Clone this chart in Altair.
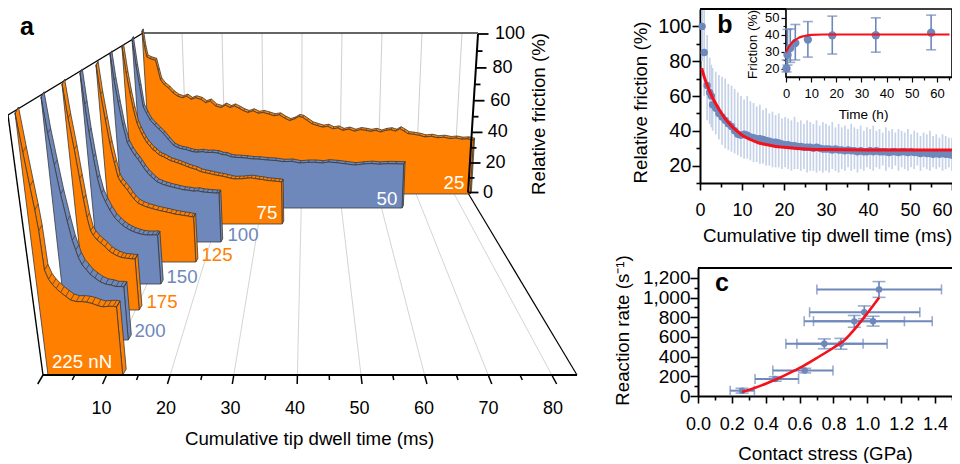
import altair as alt
import pandas as pd

W, H = 944, 455
ORANGE, BLUE, RED, DARK = "#FF7F00", "#6E88BB", "#F5101A", "#3A3A3A"
FONT = "Liberation Sans"
TXT = 18.7

# ---------- panel a: friction traces (ms, %) ----------
T225 = [0, .4, .8, 1.1, 1.3, 1.45, 1.9, 2.4, 2.9, 3.5, 4.2, 4.9, 5.7, 6.5, 7.3, 8.1, 8.9, 9.7, 10.5, 11.3, 11.8]
F225 = [100, 85, 72, 63, 55, 40, 36.5, 34.5, 33, 31.5, 30, 28.6, 28, 28, 27.8, 27.3, 26.5, 26, 26.2, 26.2, 26]
T200 = [0, .4, .9, 1.4, 2.0, 2.5, 2.9, 3.2, 3.7, 4.3, 4.9, 5.6, 6.4, 7.3, 8.2, 9, 9.8, 10.3]
F200 = [100, 85, 72, 60, 49, 41, 37, 34, 31, 29, 27, 25.5, 24, 23, 22.6, 22, 22, 21.8]
T175 = [0, .4, .9, 1.3, 1.6, 1.9, 2.3, 2.7, 3.3, 3.9, 4.6, 5.3, 5.9, 6.6, 7.3, 7.9, 8.6, 9.2, 9.8]
F175 = [100, 85, 71, 58, 49, 41, 35, 33, 31, 29.6, 28, 26, 25, 24, 23.3, 23, 22.8, 22.6, 22.6]
T150 = [0, .3, .6, 1, 1.4, 1.9, 2.5, 3.2, 4, 4.7, 5.4, 6.1, 6.8, 7.4, 8.3, 9.1, 10, 10.9, 11.7, 12]
F150 = [100, 85, 72, 60, 50, 43, 39, 35, 31.5, 29.5, 27.8, 26.5, 25.5, 24.8, 24, 23.5, 23.2, 23.2, 23.3, 23]
T125 = [0, .4, .9, 1.4, 2, 2.5, 3, 3.6, 4.2, 4.8, 5.4, 6.1, 7, 8, 9, 10, 10.9, 11.8, 12.7, 13.6, 14.5, 15.4, 16.3, 17, 17.4]
F125 = [100, 85, 72, 60, 50, 43, 40.5, 38.5, 36.5, 34, 32, 30, 28.8, 27.8, 27.1, 26.4, 25.9, 25.4, 24.9, 24.3, 24, 23.6, 23.3, 22.9, 22.8]
T100 = [0, .4, .9, 1.5, 2.2, 2.9, 3.6, 4.2, 4.7, 5.3, 6, 6.7, 7.4, 8, 8.9, 9.8, 10.7, 11.6, 12.6, 13.8, 14.8, 15.8, 16.8, 17.8, 18.8, 19.8, 20.8, 21.4]
F100 = [100, 86, 74, 62, 52.7, 49, 46, 44, 42, 39.5, 37, 35, 33.4, 32, 31, 30.2, 29.5, 29, 28.4, 27.7, 27.5, 27, 27.2, 26.6, 26.4, 26.2, 26, 26]
T75 = [0, .5, 1, 1.5, 2.1, 2.6, 3.1, 3.6, 4.1, 4.7, 5.3, 5.9, 6.5, 7.1, 7.7, 8.5, 9.2, 10, 10.8, 11.6, 12.4, 13.2, 14, 15, 16, 17, 18, 19, 20, 21, 22, 23, 23.8, 24.8, 25.8, 26.7, 27.6, 28.5, 29.4, 30.3, 31.2, 32.1, 33, 34, 34.7]
F75 = [100, 85, 74, 65, 57, 53.5, 50.5, 48, 45.8, 44, 42, 41, 39.3, 38.5, 37.9, 36.8, 35.8, 35.2, 34.5, 33.8, 33, 32.2, 31.5, 30.8, 29.6, 29, 28.5, 27.9, 27.4, 27, 26.4, 25.8, 25.4, 25.5, 25.6, 25.9, 26, 25.7, 25.3, 25.1, 24.6, 24.4, 24.2, 24, 23.7]
T50 = [0, .5, 1, 1.5, 2.2, 3, 4, 5, 6, 7.1, 8.3, 9.2, 10.2, 11.2, 12.2, 13.1, 14, 15.2, 16.4, 17.6, 19, 20, 21, 22, 23, 24.5, 26, 27.5, 29, 31, 33, 35, 37, 39, 41, 42.7, 44.5, 46, 48, 50, 52.5, 54.5, 56.5, 58.5, 60.5, 62.5, 64.5]
F50 = [100, 84, 72, 60, 56, 52, 49, 46.5, 44, 40.5, 37, 35.8, 35, 34.6, 33.8, 33.2, 33, 33.3, 32.8, 32.9, 32.5, 31.6, 31.4, 30.4, 30, 29.8, 29.5, 29, 28.9, 28.4, 28.1, 27.4, 27.6, 26.6, 27, 27, 26.6, 27.2, 26.8, 26.2, 25.4, 26, 26.3, 25.9, 26.2, 26.1, 26]
T25 = [0, .4, .8, 1.6, 2.2, 2.9, 3.4, 3.9, 4.8, 5.8, 6.9, 8, 9.2, 10.3, 11.4, 12.5, 13.9, 15, 16.2, 17.5, 18.9, 20, 21.2, 22.3, 23.5, 24.6, 25.7, 27, 28.3, 29.6, 31, 32.3, 33.7, 35, 36.3, 37.5, 38.6, 39.6, 40.8, 42, 43.3, 44.7, 46, 47.3, 48.6, 49.9, 51.4, 52.9, 54.4, 55.8, 57, 58.3, 59.6, 60.9, 62.2, 63.4, 64.5, 65.6, 66.6, 68, 69.5, 71, 72.6, 74.2, 75.8, 77.5, 79, 80.5, 82, 83.5]
F25 = [100, 90, 84, 83, 82.5, 82, 76, 70, 67, 65, 62, 60, 59, 60, 58, 59, 58, 56, 57, 54, 53, 54.5, 53, 54, 52.5, 51, 50, 51, 49.5, 50, 49, 48, 48.5, 46.5, 45, 46, 47.5, 47, 45, 43, 42, 41, 41.5, 40, 40.5, 39, 39.8, 38.5, 39.5, 39, 38.4, 39, 38, 39, 39.4, 38.5, 40, 38.5, 37, 36.6, 36, 35, 35.4, 34.5, 34.8, 34, 34.3, 33.6, 33.8, 33]

# back to front: times, friction, colour, floor y, left x, height of 100 %, lean, px per ms
SERIES = [
    (T25, F25, ORANGE, 194, 152, 163, 10, 3.81),
    (T50, F50, BLUE, 208, 144, 169, 12, 4.00),
    (T75, F75, ORANGE, 224, 135, 177, 13, 4.24),
    (T100, F100, BLUE, 242, 125, 188, 15, 4.48),
    (T125, F125, ORANGE, 262, 113, 197, 17, 4.76),
    (T150, F150, BLUE, 284, 100, 211, 20, 5.07),
    (T175, F175, ORANGE, 310, 86, 226, 24, 5.43),
    (T200, F200, BLUE, 340, 68, 243, 27, 5.85),
    (T225, F225, ORANGE, 375, 48, 262, 33, 6.33),
]
A_GRID = [10, 20, 30, 40, 50, 60, 70, 80]
A_TICKS_MINOR = [5, 15, 25, 35, 45, 55, 65, 75]
A_TICKS_MAJOR = [0, 10, 20, 30, 40, 50, 60, 70, 80]
WALL_MAJOR = [0, 20, 40, 60, 80, 100]
WALL_MINOR = [10, 30, 50, 70, 90]

# ---------- panel b ----------
B_T = [0.5, 1, 1.7, 2.3, 2.7, 3, 3.75, 4.5, 5.25, 6, 6.75, 7.5, 8.25, 9, 9.75, 10.5, 11.25, 12, 12.75, 13.5, 14.25, 15, 15.75, 16.5, 17.25, 18, 18.75, 19.5, 20.25, 21, 21.75, 22.5, 23.25, 24, 24.75, 25.5, 26.25, 27, 27.75, 28.5, 29.25, 30, 30.75, 31.5, 32.25, 33, 33.75, 34.5, 35.25, 36, 36.75, 37.5, 38.25, 39, 39.75, 40.5, 41.25, 42, 42.75, 43.5, 44.25, 45, 45.75, 46.5, 47.25, 48, 48.75, 49.5, 50.25, 51, 51.75, 52.5, 53.25, 54, 54.75, 55.5, 56.25, 57, 57.75, 58.5, 59.25, 60]
B_MEAN = [100, 85, 66, 62, 60, 55,
          53, 50, 48, 46, 44, 42.5, 40, 38, 37.5, 38,
          37.5, 36.5, 36, 35.5, 35.5, 35, 34.5, 34, 33.5, 33.5,
          33, 32.5, 32, 32, 31.5, 31.5, 31, 31, 30.5, 30.5,
          30.5, 30, 30.5, 30, 29.5, 29.5, 29.5, 29, 29.5, 29,
          29, 28.5, 29, 28.5, 28.5, 28, 28.5, 28, 28, 28.5,
          28, 28.5, 28, 28, 28, 27.5, 28, 28, 27.5, 28,
          28, 27.5, 28, 27.5, 27.5, 27, 27.5, 27, 27, 26.5,
          27, 26.5, 27, 26.5, 26.5, 26]
B_UP = [110, 110, 95, 82, 78, 76,
        74, 72, 71, 70, 67, 66, 64, 62, 60, 58,
        60, 57, 56, 54, 55, 52, 53, 50, 51, 49,
        50, 47, 48, 47, 46, 48, 45, 46, 44, 46,
        45, 44, 46, 43, 45, 44, 43, 45, 42, 44,
        42, 43, 41, 44, 42, 41, 43, 40, 42, 41,
        43, 40, 41, 39, 42, 40, 41, 39, 41, 40,
        39, 41, 38, 40, 39, 37, 39, 38, 40, 37,
        38, 36, 38, 37, 36, 36]
B_LOW = [80, 60, 46, 44, 42, 40,
         38, 35, 32, 30, 29, 28, 27, 26, 25, 24,
         24, 23, 22, 22, 21, 21, 20, 20, 19, 19,
         19, 18, 19, 18, 17, 18, 18, 17, 18, 16,
         17, 17, 16, 17, 16, 17, 16, 18, 17, 16,
         18, 17, 19, 17, 18, 16, 18, 17, 19, 18,
         17, 19, 18, 20, 17, 19, 18, 20, 17, 19,
         18, 17, 19, 18, 20, 17, 19, 18, 17, 19,
         18, 19, 17, 18, 19, 17]
B_FIT_T = [.4, 1, 2, 3, 4, 5, 6, 7, 8, 9, 10, 12, 14, 16, 18, 20, 25, 30, 40, 50, 60]
B_FIT_F = [76, 71, 64.5, 59, 54.5, 50.5, 47, 44, 41.5, 39.5, 37.5, 35, 33, 32, 31, 30.5, 29.6, 29.2, 29, 29, 29]

IN_T = [.2, .6, 1.7, 3.7, 8.7, 18.4, 35.7, 57.7]
IN_F = [20, 28, 32, 35, 37, 39.5, 39.6, 41]
IN_UP = [25, 43, 43.3, 45.9, 47.6, 50.8, 49.8, 51.4]
IN_LOW = [18, 22, 23.6, 25, 26.7, 28.5, 29.6, 31]
IN_FIT_T = [0, 1, 2, 3.5, 5, 7, 10, 15, 30, 65]
IN_FIT_F = [29.5, 32.5, 34.5, 36.5, 38, 39, 39.8, 40, 40, 40]

# ---------- panel c ----------
C_X = [.26, .456, .63, .746, .844, .923, 1.034, .982, 1.069]
C_Y = [54, 173, 258, 530, 530, 758, 760, 850, 1082]
C_XLO = [.19, .337, .442, .519, .584, .627, .682, .659, .702]
C_XHI = [.333, .594, .797, .975, 1.117, 1.219, 1.383, 1.31, 1.438]
C_YLO = [30, 150, 235, 480, 475, 698, 710, 785, 1002]
C_YHI = [78, 196, 281, 580, 585, 818, 810, 915, 1162]
C_FIT_X = [.26, .3, .4, .5, .6, .7, .8, .86, .9, 1.0, 1.07]
C_FIT_Y = [40, 60, 125, 200, 285, 385, 490, 560, 630, 840, 1000]

PX = alt.Scale(domain=[0, W], range=[0, W])
PY = alt.Scale(domain=[0, H], range=[0, H])
layers = []


def poly(pts, fill, stroke=DARK, sw=0.8):
    pts = list(pts) + [pts[0]]
    df = pd.DataFrame({"x": [p[0] - 8 for p in pts], "y": [p[1] - 8 for p in pts], "i": range(len(pts))})
    return alt.Chart(df).mark_line(fill=fill, stroke=stroke, strokeWidth=sw, strokeJoin="round").encode(
        x=alt.X("x:Q", scale=PX, axis=None), y=alt.Y("y:Q", scale=PY, axis=None), order="i:Q")


def segs(rows, color, sw):
    df = pd.DataFrame([{"x": a - 8, "y": b - 8, "x2": c - 8, "y2": d - 8} for a, b, c, d in rows])
    return alt.Chart(df).mark_rule(color=color, strokeWidth=sw).encode(
        x=alt.X("x:Q", scale=PX, axis=None), y=alt.Y("y:Q", scale=PY, axis=None), x2="x2:Q", y2="y2:Q")


def text(s, x, y, color="black", size=TXT, bold=False, angle=0, align="center"):
    df = pd.DataFrame({"x": [x - 8], "y": [y - 8], "t": [s]})
    return alt.Chart(df).mark_text(color=color, fontSize=size, fontWeight="bold" if bold else "normal",
                                   angle=angle, align=align, baseline="middle", font=FONT).encode(
        x=alt.X("x:Q", scale=PX, axis=None), y=alt.Y("y:Q", scale=PY, axis=None), text="t:N")


def axis_layer(ch, dom, rng, vals, orient, pos, tick, labels=True, fs=18, pad=2, fmt=None, title=None,
               title_xy=None, domain=True, tw=1.6, ts=TXT, dw=2, flush=False):
    kw = dict(orient=orient, values=vals, tickSize=tick, tickWidth=tw, tickColor="black", grid=False,
              domain=domain, domainColor="black", domainWidth=dw, labels=labels, title=title,
              labelFontSize=fs, labelPadding=pad, labelColor="black", labelFont=FONT, labelOverlap=False,
              labelFlush=flush, offset=(pos - 8 - H) if orient == "bottom" else -(pos - 8))
    if fmt:
        kw["format"] = fmt
    if title:
        kw.update(titleFontSize=ts, titleFontWeight="normal", titleFont=FONT, titleColor="black",
                  titleBaseline="middle", titleAlign="center", titleX=title_xy[0], titleY=title_xy[1])
    df = pd.DataFrame({"v": vals})
    sc = alt.Scale(domain=dom, range=rng, nice=False, zero=False)
    enc = alt.X("v:Q", scale=sc, axis=alt.Axis(**kw)) if ch == "x" else alt.Y("v:Q", scale=sc, axis=alt.Axis(**kw))
    c = alt.Chart(df).mark_point(opacity=0)
    return c.encode(x=enc) if ch == "x" else c.encode(y=enc)


# ---------- panel a drawing ----------
def back_x(t): return 150 + 3.79 * t
def front_x(t): return 43 + 6.36 * t
def top_x(t): return 142 + 4.0 * t


layers.append(segs([(top_x(t), 33, back_x(t), 192) for t in A_GRID], "#CFCFCF", 1))
layers.append(segs([(back_x(t), 192, front_x(t), 375) for t in A_GRID], "#CFCFCF", 0.9))
layers.append(segs([(143, 33, 478, 33)], "#333333", 1.3))
layers.append(segs([(143, 33, 8, 115), (8, 115, 43, 375)], "black", 1.4))
layers.append(segs([(468, 193, 577, 375)], "black", 1.2))


def project(t, f, s):
    _, _, _, base, x0, hgt, lean, ppm = s
    return (x0 + t * ppm - lean * f / 100 * (1 - 2 * t / 84), base - hgt * f / 100)


for s in SERIES:
    ts, fs_, col, base = s[0], s[1], s[2], s[3]
    k = 0.35 + 0.65 * (base - 194) / 181
    ox, oy = 3.5 * k, 6 * k
    front = [project(t, f, s) for t, f in zip(ts, fs_)]
    back = [(x + ox, y - oy) for x, y in front]
    b0 = project(0, 0, s)
    b1 = project(ts[-1], 0, s)
    e = front[-1]
    layers.append(poly([e, b1, (b1[0] + ox, b1[1] - oy), (e[0] + ox, e[1] - oy)], col))
    layers.append(poly(front + back[::-1], col))
    layers.append(segs([(a[0], a[1], c[0], c[1]) for a, c in zip(front, back)], DARK, 0.7))
    layers.append(poly([b0] + front + [b1], col))

layers.append(segs([(43, 375, 577, 375)], "black", 2))
layers.append(segs([(front_x(t), 375, front_x(t) + (front_x(t) - back_x(t)) * 9 / 183, 384) for t in A_TICKS_MAJOR], "black", 1.5))
layers.append(segs([(front_x(t), 375, front_x(t) + (front_x(t) - back_x(t)) * 5 / 183, 380) for t in A_TICKS_MINOR], "black", 1.5))


def wall_y(f): return 192.5 - 1.4475 * f - 0.001375 * f * f
def wall_x(f): return 468 + 0.10 * f


layers.append(segs([(468, 192.5, 478, 34)], "black", 2))
layers.append(segs([(wall_x(f), wall_y(f), wall_x(f) + 10.5, wall_y(f)) for f in WALL_MAJOR], "black", 1.8))
layers.append(segs([(wall_x(f), wall_y(f), wall_x(f) + 5.5, wall_y(f)) for f in WALL_MINOR], "black", 1.8))
for f in WALL_MAJOR:
    layers.append(text(str(f), 483 + 0.12 * f, wall_y(f), align="left", size=18))
layers.append(text("Relative friction (%)", 539, 114, angle=270))

layers.append(axis_layer("x", [0, 84], [28.5, 570.3], A_TICKS_MAJOR[1:], "bottom", 375, 0, pad=24, domain=False,
                         title="Cumulative tip dwell time (ms)", title_xy=(301, 63)))

for s, c, x, y in [("225 nN", "white", 82, 362), ("200", BLUE, 150, 331), ("175", ORANGE, 162, 302),
                   ("150", BLUE, 182, 277), ("125", ORANGE, 217, 255), ("100", BLUE, 243, 235),
                   ("75", "white", 267, 213), ("50", "white", 387, 199), ("25", "white", 454, 183)]:
    layers.append(text(s, x, y, color=c))
layers.append(text("a", 27, 27, size=25, bold=True))

# ---------- panel b drawing ----------
BX = alt.Scale(domain=[0, 60], range=[692, 944], nice=False, zero=False)
BY = alt.Scale(domain=[10, 110], range=[175, 1], nice=False, zero=False)
bdf = pd.DataFrame({"t": B_T, "m": B_MEAN, "u": B_UP, "l": B_LOW})
layers.append(alt.Chart(bdf).mark_rule(color="#C6D2E8", strokeWidth=1.7).encode(
    x=alt.X("t:Q", scale=BX, axis=None), y=alt.Y("l:Q", scale=BY, axis=None), y2="u:Q"))
layers.append(alt.Chart(bdf).mark_circle(color=BLUE, size=55, opacity=1).encode(
    x=alt.X("t:Q", scale=BX, axis=None), y=alt.Y("m:Q", scale=BY, axis=None)))
layers.append(alt.Chart(pd.DataFrame({"t": B_FIT_T, "f": B_FIT_F})).mark_line(color=RED, strokeWidth=3, interpolate="monotone").encode(
    x=alt.X("t:Q", scale=BX, axis=None), y=alt.Y("f:Q", scale=BY, axis=None)))
layers.append(axis_layer("x", [0, 60], [692, 944], [0, 10, 20, 30, 40, 50], "bottom", 183, 7, pad=11,
                         title="Cumulative tip dwell time (ms)", title_xy=(819, 52)))
layers.append(axis_layer("x", [0, 60], [692, 944], [60], "bottom", 183, 7, pad=11, flush=True, domain=False))
layers.append(axis_layer("x", [0, 60], [692, 944], [5, 15, 25, 35, 45, 55], "bottom", 183, 4, labels=False, domain=False))
layers.append(axis_layer("y", [10, 110], [175, 1], [20, 40, 60, 80, 100], "left", 700, 8, fs=20, pad=1,
                         title="Relative friction (%)", title_xy=(-60, 94)))
layers.append(axis_layer("y", [10, 110], [175, 1], [10, 30, 50, 70, 90], "left", 700, 4, labels=False, domain=False))
layers.append(segs([(700, 9, 786, 9)], "black", 1.8))

# inset
IX = alt.Scale(domain=[0, 66], range=[778, 944], nice=False, zero=False)
IY = alt.Scale(domain=[15, 55], range=[69, 1], nice=False, zero=False)
layers.append(alt.Chart(pd.DataFrame({"a": [0], "b": [66], "c": [15], "d": [55]})).mark_rect(
    fill="white", stroke="black", strokeWidth=1.6).encode(
    x=alt.X("a:Q", scale=IX, axis=None), x2="b:Q", y=alt.Y("c:Q", scale=IY, axis=None), y2="d:Q"))
idf = pd.DataFrame({"t": IN_T, "f": IN_F, "u": IN_UP, "l": IN_LOW})
layers.append(alt.Chart(idf).mark_rule(color=BLUE, strokeWidth=1.6).encode(
    x=alt.X("t:Q", scale=IX, axis=None), y=alt.Y("l:Q", scale=IY, axis=None), y2="u:Q"))
for fld in ["u", "l"]:
    layers.append(alt.Chart(idf).mark_tick(color=BLUE, orient="horizontal", size=10, thickness=1.6).encode(
        x=alt.X("t:Q", scale=IX, axis=None), y=alt.Y(f"{fld}:Q", scale=IY, axis=None)))
layers.append(alt.Chart(idf).mark_circle(color=BLUE, size=70, opacity=1).encode(
    x=alt.X("t:Q", scale=IX, axis=None), y=alt.Y("f:Q", scale=IY, axis=None)))
layers.append(alt.Chart(pd.DataFrame({"t": IN_FIT_T, "f": IN_FIT_F})).mark_line(color=RED, strokeWidth=2.2, interpolate="monotone").encode(
    x=alt.X("t:Q", scale=IX, axis=None), y=alt.Y("f:Q", scale=IY, axis=None)))
layers.append(axis_layer("x", [0, 66], [778, 944], [0, 10, 20, 30, 40, 50, 60], "bottom", 77, 5, fs=13, pad=5, tw=1.2, dw=1.6,
                         title="Time (h)", title_xy=(855, 37), ts=13.5))
layers.append(axis_layer("x", [0, 66], [778, 944], [5, 15, 25, 35, 45, 55, 65], "bottom", 77, 3, labels=False, domain=False, tw=1.2))
layers.append(axis_layer("y", [15, 55], [69, 1], [20, 30, 40, 50], "left", 786, 5, fs=13, pad=2, tw=1.2, dw=1.6,
                         title="Friction (%)", title_xy=(-34, 36), ts=13.5))
layers.append(axis_layer("y", [15, 55], [69, 1], [25, 35, 45, 55], "left", 786, 3, labels=False, domain=False, tw=1.2))
layers.append(text("b", 725, 25, size=25, bold=True))

# ---------- panel c drawing ----------
CX = alt.Scale(domain=[0, 1.5], range=[690, 944], nice=False, zero=False)
CY = alt.Scale(domain=[0, 1300], range=[388, 260], nice=False, zero=False)
cdf = pd.DataFrame({"x": C_X, "y": C_Y, "xl": C_XLO, "xh": C_XHI, "yl": C_YLO, "yh": C_YHI})
layers.append(alt.Chart(cdf).mark_rule(color=BLUE, strokeWidth=2).encode(
    x=alt.X("xl:Q", scale=CX, axis=None), x2="xh:Q", y=alt.Y("y:Q", scale=CY, axis=None)))
layers.append(alt.Chart(cdf).mark_rule(color=BLUE, strokeWidth=1.7).encode(
    x=alt.X("x:Q", scale=CX, axis=None), y=alt.Y("yl:Q", scale=CY, axis=None), y2="yh:Q"))
for fld in ["xl", "xh"]:
    layers.append(alt.Chart(cdf).mark_tick(color=BLUE, orient="vertical", size=10, thickness=1.6).encode(
        x=alt.X(f"{fld}:Q", scale=CX, axis=None), y=alt.Y("y:Q", scale=CY, axis=None)))
for fld in ["yl", "yh"]:
    layers.append(alt.Chart(cdf).mark_tick(color=BLUE, orient="horizontal", size=13, thickness=1.6).encode(
        x=alt.X("x:Q", scale=CX, axis=None), y=alt.Y(f"{fld}:Q", scale=CY, axis=None)))
layers.append(alt.Chart(cdf).mark_circle(color=BLUE, size=42, opacity=1).encode(
    x=alt.X("x:Q", scale=CX, axis=None), y=alt.Y("y:Q", scale=CY, axis=None)))
layers.append(alt.Chart(pd.DataFrame({"x": C_FIT_X, "y": C_FIT_Y})).mark_line(color=RED, strokeWidth=2.6, interpolate="monotone").encode(
    x=alt.X("x:Q", scale=CX, axis=None), y=alt.Y("y:Q", scale=CY, axis=None)))
layers.append(axis_layer("x", [0, 1.5], [690, 944], [0, .2, .4, .6, .8, 1.0, 1.2, 1.4], "bottom", 396, 7, pad=12, fmt=".1f",
                         title="Contact stress (GPa)", title_xy=(817, 57)))
layers.append(axis_layer("x", [0, 1.5], [690, 944], [.1, .3, .5, .7, .9, 1.1, 1.3, 1.5], "bottom", 396, 4, labels=False, domain=False))
layers.append(axis_layer("y", [0, 1300], [388, 260], [0, 200, 400, 600, 800, 1000, 1200], "left", 698, 8, fs=19, pad=0, fmt=",.0f",
                         title="Reaction rate (s\u207b\u00b9)", title_xy=(-76, 322)))
layers.append(axis_layer("y", [0, 1300], [388, 260], [100, 300, 500, 700, 900, 1100], "left", 698, 4, labels=False, domain=False))
layers.append(segs([(698, 268, 952, 268)], "black", 1.8))
layers.append(text("c", 722, 283, size=25, bold=True))

chart = alt.layer(*layers).resolve_scale(x="independent", y="independent").properties(
    width=W, height=H, padding=0, autosize=alt.AutoSizeParams(type="none"),
).configure(font=FONT).configure_view(stroke=None)

chart.save("out.html", embed_options={"renderer": "svg", "actions": False})
